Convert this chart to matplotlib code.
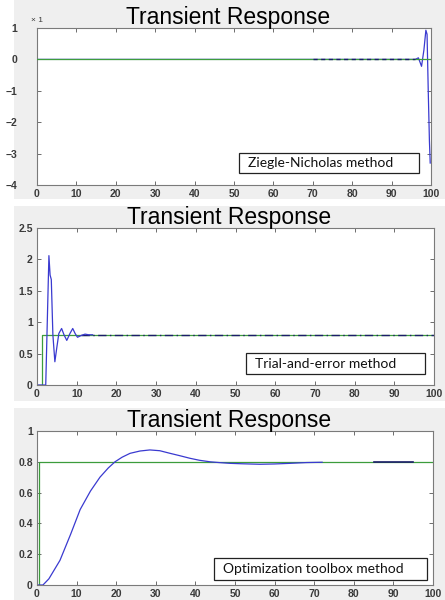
import matplotlib.pyplot as plt
from matplotlib.patches import Rectangle

# --- data ---
x_ticks = [0, 10, 20, 30, 40, 50, 60, 70, 80, 90, 100]

# panel 1: Ziegler-Nichols
zn_ref_t = [0, 100]
zn_ref_y = [0, 0]
zn_t = [0, 96.0, 96.8, 97.6, 98.2, 98.7, 99.0, 99.3, 99.6, 99.8]
zn_y = [0, 0, 0.05, -0.22, 0.3, 0.93, 0.8, -1.0, -2.6, -3.3]
zn_dash_t = [70, 96]
zn_dash_y = [0, 0]
zn_yticks = [-4, -3, -2, -1, 0, 1]

# panel 2: trial and error
te_ref_t = [0, 1.2, 1.2, 100]
te_ref_y = [0, 0, 0.8, 0.8]
te_t = [0, 2.2, 2.6, 3.0, 3.3, 3.6, 4.0, 4.5, 5.0, 5.5, 6.2, 6.8, 7.5,
        8.3, 9.0, 9.6, 10.2, 11.2, 12.1, 13.0, 14.0]
te_y = [0, 0, 1.03, 2.06, 1.75, 1.68, 0.8, 0.37, 0.6, 0.82, 0.9, 0.8, 0.71,
        0.82, 0.9, 0.82, 0.76, 0.79, 0.81, 0.8, 0.8]
te_dash_t = [11, 100]
te_dash_y = [0.8, 0.8]
te_yticks = [0, 0.5, 1, 1.5, 2, 2.5]

# panel 3: optimization toolbox
op_ref_t = [0, 0.6, 0.6, 100]
op_ref_y = [0, 0, 0.8, 0.8]
op_t = [0, 1.5, 3, 5.8, 8.5, 10.9, 13.5, 15.9, 18, 19.7, 21.5, 23.5, 26, 28.5,
        31, 33.6, 36, 38.6, 41, 43.7, 46, 48.7, 52, 56.3, 60, 63.9, 68, 72]
op_y = [0, 0, 0.04, 0.16, 0.33, 0.49, 0.61, 0.70, 0.76, 0.80, 0.83, 0.855, 0.87, 0.877,
        0.872, 0.855, 0.84, 0.823, 0.81, 0.80, 0.795, 0.79, 0.787, 0.784, 0.786, 0.79, 0.795, 0.797]
op_seg_t = [85, 95]
op_seg_y = [0.8, 0.8]
op_yticks = [0, 0.2, 0.4, 0.6, 0.8, 1]

labels = ["Ziegle-Nicholas method", "Trial-and-error method", "Optimization toolbox method"]

W, H = 445, 600
fig = plt.figure(figsize=(W / 100, H / 100), dpi=100, facecolor="white")

# grey screenshot backgrounds (pixel boxes: left, top, right, bottom)
for l, t, r, b in [(14, 0, 445, 199), (14, 206, 445, 401), (14, 408, 445, 600)]:
    fig.patches.append(Rectangle((l / W, 1 - b / H), (r - l) / W, (b - t) / H,
                                 transform=fig.transFigure, facecolor="#efefef",
                                 edgecolor="none", zorder=-10))

green = "#3c9c3c"
blue = "#3a3ad0"
navy = "#1c1c6a"
tick_col = "#3a3a3a"
spine_col = "#7a7a7a"


def style_labels(ax):
    for lab in ax.get_xticklabels() + ax.get_yticklabels():
        lab.set_family("Liberation Sans")
        lab.set_fontweight("bold")


def make_ax(top, bottom, right):
    ax = fig.add_axes([37 / W, 1 - bottom / H, (right - 37) / W, (bottom - top) / H])
    ax.set_facecolor("white")
    for s in ax.spines.values():
        s.set_color(spine_col)
        s.set_linewidth(0.8)
    ax.tick_params(direction="in", length=3, width=0.6, color="#555555",
                   top=True, right=True, labelsize=7.5, labelcolor=tick_col, pad=3)
    ax.set_xlim(0, 100)
    ax.set_xticks(x_ticks)
    ax.set_title("Transient Response", fontsize=16.5, family="Liberation Sans",
                 pad=3, x=0.485)
    return ax


def label_box(x0, y0, x1, y1, text):
    # box given in figure pixels
    fig.patches.append(Rectangle((x0 / W, 1 - y1 / H), (x1 - x0) / W, (y1 - y0) / H,
                                 transform=fig.transFigure, facecolor="white",
                                 edgecolor="#222222", linewidth=0.9, zorder=5))
    fig.text((x0 + 9) / W, 1 - (y0 + y1) / 2 / H, text, fontsize=10, family="Lato",
             va="center", ha="left", color="#111111", zorder=6)


# panel 1
ax1 = make_ax(28, 185, 431)
ax1.plot(zn_t, zn_y, color=blue, lw=0.9, zorder=2)
ax1.plot(zn_ref_t, zn_ref_y, color=green, lw=0.9, zorder=3)
ax1.plot(zn_dash_t, zn_dash_y, color=navy, lw=1.0, ls=(0, (3, 2.5)), zorder=4)
ax1.set_ylim(-4, 1)
ax1.set_yticks(zn_yticks)
ax1.tick_params(axis="y", pad=14)
style_labels(ax1)
fig.text(31 / W, 1 - 20 / H, "\u00d7 1", fontsize=6, family="Liberation Sans",
         color=tick_col, va="center")
label_box(239, 153, 419, 173, labels[0])

# panel 2
ax2 = make_ax(228, 385, 434)
ax2.plot(te_ref_t, te_ref_y, color=green, lw=0.9)
ax2.plot(te_dash_t, te_dash_y, color=navy, lw=1.0, ls=(0, (6, 2.5, 1, 2.5)))
ax2.plot(te_t, te_y, color=blue, lw=0.9)
ax2.set_ylim(0, 2.5)
ax2.set_yticks(te_yticks)
ax2.set_yticklabels(["0", "0.5", "1", "1.5", "2", "2.5"])
style_labels(ax2)
label_box(246, 353, 425, 374, labels[1])

# panel 3
ax3 = make_ax(431, 585, 433)
ax3.plot(op_ref_t, op_ref_y, color=green, lw=0.9)
ax3.plot(op_t, op_y, color=blue, lw=0.9)
ax3.plot(op_seg_t, op_seg_y, color=navy, lw=1.2)
ax3.set_ylim(0, 1)
ax3.set_yticks(op_yticks)
ax3.set_yticklabels(["0", "0.2", "0.4", "0.6", "0.8", "1"])
style_labels(ax3)
label_box(214, 558, 427, 580, labels[2])

fig.savefig("out.png", dpi=100, facecolor="white")
